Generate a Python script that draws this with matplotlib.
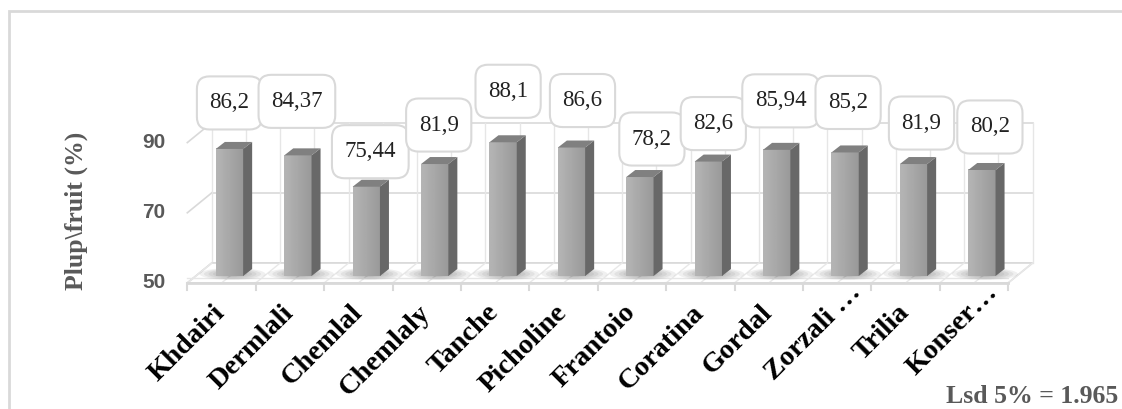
import numpy as np
import matplotlib.pyplot as plt
from matplotlib.patches import Polygon, Rectangle, Ellipse, BoxStyle

# olive cultivars and pulp / fruit ratio (%)
cultivars = ['Khdairi', 'Dermlali', 'Chemlal', 'Chemlaly', 'Tanche', 'Picholine',
             'Frantoio', 'Coratina', 'Gordal', 'Zorzali …', 'Trilia', 'Konser…']
pulp_ratio = [86.2, 84.37, 75.44, 81.9, 88.1, 86.6, 78.2, 82.6, 85.94, 85.2, 81.9, 80.2]
y_ticks = [50, 70, 90]
lsd_text = 'Lsd 5% = 1.965'

# label box offsets above each bar top, in pixels (dx, dy)
label_offsets = [(0, 46), (-1, 54), (4, 35), (4, 39), (5, 51), (11, 47),
                 (12, 38), (5, 38), (4, 49), (3, 50), (8, 41), (8, 43)]

W, H = 1122, 409
PX_X = 68.4   # pixels per category
PX_Y = 3.51   # pixels per percent
X0 = 195.3    # left edge of the bar plane
Y0 = 276      # baseline (value 50) of the bar plane

def dx(p):
    return p / PX_X

def dy(p):
    return p / PX_Y

class LabelBox:
    """Rounded box with separate horizontal and vertical padding."""
    def __init__(self, padx, pady, rounding):
        self.padx, self.pady = padx, pady
        self.round = BoxStyle.Round(pad=0, rounding_size=rounding)

    def __call__(self, x0, y0, width, height, mutation_size):
        px, py = self.padx * mutation_size, self.pady * mutation_size
        return self.round(x0 - px, y0 - py, width + 2 * px, height + 2 * py, mutation_size)

serif = 'Liberation Serif'
grid_c = '#d9d9d9'
text_gray = '#595959'
name_font = dict(fontsize=20.5, fontweight='bold', family=serif)

fig = plt.figure(figsize=(W / 100, H / 100), dpi=100)
ax = fig.add_axes([X0 / W, (H - Y0) / H, 12 * PX_X / W, 40 * PX_Y / H])
ax.axis('off')

n = len(cultivars)
lo, hi = -0.5, n - 0.5
ybase, ytop = y_ticks[0], y_ticks[-1]

# depth offsets (pixels) of the back wall and the front edge
BX, BY = 16.5, 13
FX, FY = -8, -7

# back wall and left wall gridlines
for t in y_ticks:
    ax.plot([lo + dx(BX), hi + dx(BX)], [t + dy(BY)] * 2, color=grid_c, lw=1.2, zorder=1, clip_on=False)
    ax.plot([lo + dx(FX), lo + dx(BX)], [t + dy(FY), t + dy(BY)], color=grid_c, lw=1.2, zorder=1, clip_on=False)
for k in range(2 * n + 1):
    xb = lo + 0.5 * k + dx(BX)
    ax.plot([xb, xb], [ybase + dy(BY), ytop + dy(BY)], color='#e6e6e6', lw=1, zorder=1, clip_on=False)

# floor
floor = Polygon([(lo + dx(FX), ybase + dy(FY)), (hi + dx(FX), ybase + dy(FY)),
                 (hi + dx(BX), ybase + dy(BY)), (lo + dx(BX), ybase + dy(BY))],
                closed=True, fc='white', ec=grid_c, lw=1.2, zorder=2, clip_on=False)
ax.add_patch(floor)
for k in range(2 * n + 1):
    xf = lo + 0.5 * k
    ax.plot([xf + dx(FX), xf + dx(BX)], [ybase + dy(FY), ybase + dy(BY)],
            color='#e8e8e8', lw=1, zorder=2, clip_on=False)
ax.plot([lo + dx(FX), hi + dx(FX)], [ybase + dy(FY + 5)] * 2, color='#e6e6e6', lw=1, zorder=2, clip_on=False)
ax.plot([lo + dx(FX), hi + dx(FX)], [ybase + dy(FY)] * 2, color=grid_c, lw=2, zorder=2, clip_on=False)
for j in range(n + 1):
    xt = lo + j + dx(FX)
    ax.plot([xt, xt], [ybase + dy(FY), ybase + dy(FY - 7)], color=grid_c, lw=1.5, zorder=2, clip_on=False)

# y tick labels on the front edge
for t in y_ticks:
    ax.text(lo + dx(FX - 22), t + dy(FY), str(t), ha='right', va='center',
            fontsize=15, fontweight='bold', color=text_gray, family='Liberation Sans')

# bars with a shaded front, darker side and top
hw = dx(13.65)
sx, sy = dx(9), dy(7)
grad = np.linspace(0.71, 0.60, 32).reshape(1, -1)
for i, v in enumerate(pulp_ratio):
    for s in range(6):
        ax.add_patch(Ellipse((i + dx(3), ybase + dy(2)), dx(66 - 9 * s), dy(12 - 1.5 * s),
                             fc='#303030', ec='none', alpha=0.07, zorder=3, clip_on=False))
    ax.imshow(grad, extent=(i - hw, i + hw, ybase, v), aspect='auto', cmap='gray',
              vmin=0, vmax=1, interpolation='bilinear', zorder=4, clip_on=False)
    ax.add_patch(Polygon([(i + hw, ybase), (i + hw + sx, ybase + sy), (i + hw + sx, v + sy), (i + hw, v)],
                         closed=True, fc='#686868', ec='none', zorder=4, clip_on=False))
    ax.add_patch(Polygon([(i - hw, v), (i + hw, v), (i + hw + sx, v + sy), (i - hw + sx, v + sy)],
                         closed=True, fc='#808080', ec='none', zorder=4, clip_on=False))

ax.set_xlim(lo, hi)
ax.set_ylim(ybase, ytop)

# value labels in rounded boxes
for i, v in enumerate(pulp_ratio):
    ox, oy = label_offsets[i]
    ax.annotate(f'{v:g}'.replace('.', ','), xy=(i, v), xytext=(ox, oy), textcoords='offset pixels',
                ha='center', va='center', fontsize=16.5, family=serif, color='#222222', zorder=6,
                bbox=dict(boxstyle=LabelBox(0.55, 0.7, 0.55), fc='white', ec=grid_c, lw=1.5))

# truncated names hang their ellipsis past the tick
renderer = fig.canvas.get_renderer()
probe = fig.text(0, 0, '…', **name_font)
ell_w = probe.get_window_extent(renderer).width
probe.remove()

# rotated cultivar names
for i, name in enumerate(cultivars):
    shift = ell_w / np.sqrt(2) if name.endswith('…') else 0
    ax.annotate(name, xy=(i, ybase), xytext=(-8 + shift, -33 + shift), textcoords='offset pixels',
                rotation=45, ha='right', va='center', rotation_mode='anchor',
                color='black', **name_font)

fig.text(76 / W, 1 - 211 / H, 'Plup\\fruit (%)', rotation=90, ha='center', va='center',
         fontsize=18.5, fontweight='bold', family=serif, color=text_gray)
fig.text(946 / W, 1 - 403 / H, lsd_text, ha='left', va='baseline',
         fontsize=18.5, fontweight='bold', family=serif, color=text_gray)

# chart area border
fig.add_artist(Rectangle((9 / W, -0.1), 1.2, 1.1 - 11 / H, transform=fig.transFigure,
                         fill=False, ec=grid_c, lw=2))

fig.savefig('out.png', dpi=100)
